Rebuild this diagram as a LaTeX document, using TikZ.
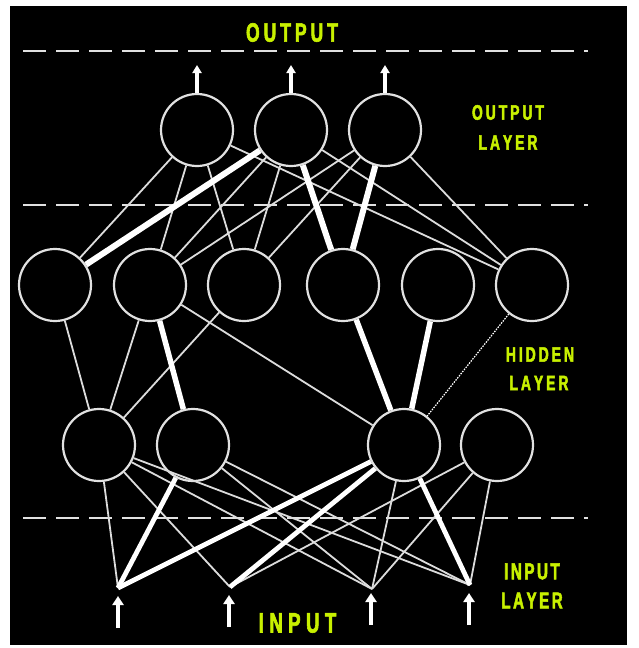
\documentclass[tikz,border=0pt]{standalone}
\usepackage{fontspec}
\usetikzlibrary{arrows.meta}
\newfontfamily\lblfont{Liberation Sans}[FakeStretch=0.66, FakeBold=2.2]
\definecolor{lbl}{RGB}{200,240,0}
\definecolor{wire}{RGB}{220,220,220}
\definecolor{ring}{RGB}{225,225,225}
\makeatletter
\newcommand\spaced[2]{\def\my@k{#1}\@tfor\my@l:=#2\do{\my@l\kern\my@k}\unkern}
\makeatother
\tikzset{
  neuron/.style={circle, minimum size=72pt, inner sep=0pt, draw=ring, line width=2.2pt, fill=black},
  wthin/.style={draw=wire, line width=1.8pt},
  wthick/.style={draw=white, line width=5.5pt},
  wdot/.style={draw=white, line width=1.2pt, dash pattern=on 1.5pt off 1.2pt},
  sep/.style={draw=ring, line width=2.8pt, dash pattern=on 23pt off 10pt},
  outarrow/.style={draw=white, line width=3.2pt, -{Triangle[width=9pt,length=8pt]}},
  inarrow/.style={draw=white, line width=3.4pt, -{Triangle[width=11pt,length=9pt]}},
  lbltxt/.style={text=lbl, inner sep=0pt},
}
\begin{document}
\begin{tikzpicture}[x=1pt,y=-1pt]
\useasboundingbox (0,0) rectangle (639,648);
\fill[white] (0,0) rectangle (639,648);
\fill[black] (10,6) rectangle (627,645);

% separators
\coordinate (s1a) at (23,51);  \coordinate (s1b) at (588,51);
\coordinate (s2a) at (23,205); \coordinate (s2b) at (588,205);
\coordinate (s3a) at (23,518); \coordinate (s3b) at (588,518);
\draw[sep] (s1a) -- (s1b);
\draw[sep] (s2a) -- (s2b);
\draw[sep] (s3a) -- (s3b);

% neurons
\node[neuron] (o1) at (197,130) {};
\node[neuron] (o2) at (291,130) {};
\node[neuron] (o3) at (385,130) {};
\node[neuron] (h1) at (55,285) {};
\node[neuron] (h2) at (150,285) {};
\node[neuron] (h3) at (244,285) {};
\node[neuron] (h4) at (343,285) {};
\node[neuron] (h5) at (438,285) {};
\node[neuron] (h6) at (532,285) {};
\node[neuron] (g1) at (99,445) {};
\node[neuron] (g2) at (193,445) {};
\node[neuron] (g3) at (404,445) {};
\node[neuron] (g4) at (497,445) {};
\coordinate (i1) at (118,588);
\coordinate (i2) at (230,587);
\coordinate (i3) at (372,589);
\coordinate (i4) at (470,585);

% output - hidden
\foreach \a/\b in {o1/h1,o1/h2,o1/h3,o1/h6,o2/h2,o2/h3,o2/h6,o3/h2,o3/h3,o3/h6}
  \draw[wthin] (\a) -- (\b);
\foreach \a/\b in {o2/h1,o2/h4,o3/h4}
  \draw[wthick, line width=6pt] (\a) -- (\b);

% hidden - hidden
\foreach \a/\b in {h1/g1,h2/g1,h3/g1,h2/g3}
  \draw[wthin] (\a) -- (\b);
\foreach \a/\b in {h2/g2,h4/g3,h5/g3}
  \draw[wthick] (\a) -- (\b);
\draw[wdot] (h6) -- (g3);

% hidden - input
\foreach \a/\b in {g1/i1,g1/i2,g1/i3,g1/i4,g2/i3,g2/i4,g3/i3,g4/i2,g4/i3,g4/i4}
  \draw[wthin] (\a) -- (\b);
\foreach \a/\b in {g2/i1,g3/i1,g3/i2,g3/i4}
  \draw[wthick, line width=4.8pt] (\a) -- (\b);

% output arrows
\coordinate (oa1) at (197,65);
\coordinate (oa2) at (291,65);
\coordinate (oa3) at (385,65);
\draw[outarrow] (o1.north) -- (oa1);
\draw[outarrow] (o2.north) -- (oa2);
\draw[outarrow] (o3.north) -- (oa3);

% input arrows
\coordinate (ib1) at (118,628); \coordinate (it1) at (118,596);
\coordinate (ib2) at (229,627); \coordinate (it2) at (229,595);
\coordinate (ib3) at (371,625); \coordinate (it3) at (371,593);
\coordinate (ib4) at (469,625); \coordinate (it4) at (469,593);
\draw[inarrow] (ib1) -- (it1);
\draw[inarrow] (ib2) -- (it2);
\draw[inarrow] (ib3) -- (it3);
\draw[inarrow] (ib4) -- (it4);

% labels
\node[lbltxt, font=\lblfont\bfseries\fontsize{26.5}{26.5}\selectfont] (toutput) at (292,32.5) {\spaced{4pt}{OUTPUT}};
\node[lbltxt, font=\lblfont\bfseries\fontsize{21}{21}\selectfont] (tol1) at (508,112.5) {\spaced{3pt}{OUTPUT}};
\node[lbltxt, font=\lblfont\bfseries\fontsize{21}{21}\selectfont] (tol2) at (508,142.5) {\spaced{3pt}{LAYER}};
\node[lbltxt, font=\lblfont\bfseries\fontsize{21}{21}\selectfont] (thl1) at (540,354.5) {\spaced{3pt}{HIDDEN}};
\node[lbltxt, font=\lblfont\bfseries\fontsize{21}{21}\selectfont] (thl2) at (539,383) {\spaced{3pt}{LAYER}};
\node[lbltxt, font=\lblfont\bfseries\fontsize{23}{23}\selectfont] (til1) at (532,571.5) {\spaced{2.5pt}{INPUT}};
\node[lbltxt, font=\lblfont\bfseries\fontsize{23}{23}\selectfont] (til2) at (532,600.5) {\spaced{2.5pt}{LAYER}};
\node[lbltxt, font=\lblfont\bfseries\fontsize{28}{28}\selectfont] (tinput) at (297.5,623) {\spaced{5.5pt}{INPUT}};
\end{tikzpicture}
\end{document}
